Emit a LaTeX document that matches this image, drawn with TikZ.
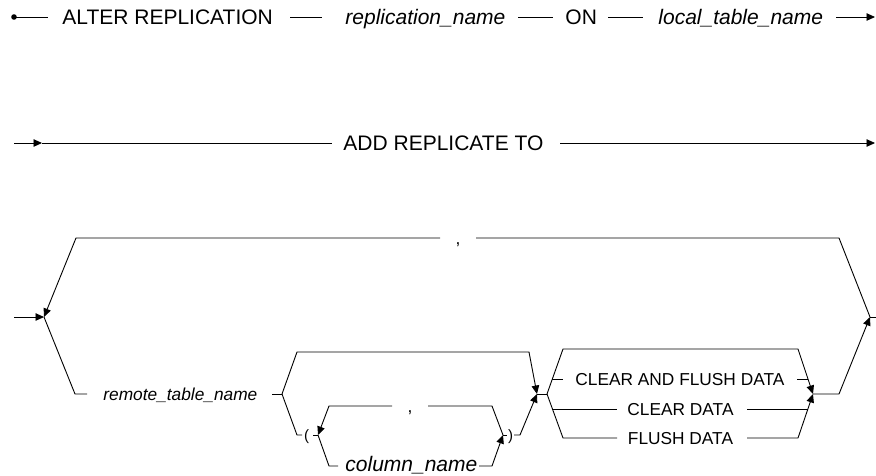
\documentclass[tikz,border=0pt]{standalone}
\usepackage{fontspec}
\setmainfont{Liberation Sans}
\usetikzlibrary{arrows.meta}
\begin{document}
\begin{tikzpicture}[x=1pt,y=-1pt,line width=0.9pt,
  arr/.style={-{Triangle[length=8.5pt,width=7.5pt]}},
  tbig/.style={font=\fontsize{21}{25}\selectfont,inner sep=0pt,text height=15pt,text depth=0pt},
  tbigit/.style={tbig,font=\fontsize{21}{25}\selectfont\itshape},
  tsm/.style={font=\fontsize{17.3}{20}\selectfont,inner sep=0pt,text height=12.4pt,text depth=0pt},
  tsmit/.style={tsm,font=\fontsize{17.3}{20}\selectfont\itshape},
  tpar/.style={font=\fontsize{15}{18}\selectfont,inner sep=0pt,text height=10.7pt,text depth=0pt}]
\useasboundingbox (0,0) rectangle (876,475);

% ---------- row 1 ----------
\coordinate (s0) at (14,17);
\coordinate (s1) at (48,17);
\coordinate (s2) at (290,17);
\coordinate (s3) at (322,17);
\coordinate (s4) at (518,17);
\coordinate (s5) at (553,17);
\coordinate (s6) at (608,17);
\coordinate (s7) at (643,17);
\coordinate (s8) at (836,17);
\coordinate (s9) at (875,17);
\fill (s0) circle (2.8pt);
\node[tbig,anchor=west] (alter) at (62,17) {ALTER REPLICATION};
\node[tbigit,anchor=west] (rname) at (345,17) {replication\_name};
\node[tbig,anchor=west] (on) at (565,17) {ON};
\node[tbigit,anchor=west] (ltname) at (658,17) {local\_table\_name};
\draw (s0) -- (s1);
\draw (s2) -- (s3);
\draw (s4) -- (s5);
\draw (s6) -- (s7);
\draw[arr] (s8) -- (s9);

% ---------- row 2 ----------
\coordinate (r0) at (14,143);
\coordinate (r1) at (42,143);
\coordinate (r2) at (332,143);
\coordinate (r3) at (560,143);
\coordinate (r4) at (875,143);
\node[tbig,anchor=west] (add) at (343,143) {ADD REPLICATE TO};
\draw[arr] (r0) -- (r1);
\draw (r1) -- (r2);
\draw[arr] (r3) -- (r4);

% ---------- row 3: outer loop ----------
\coordinate (in0) at (14,317);
\coordinate (J1) at (44,317);
\coordinate (tl) at (76,238);
\coordinate (c1a) at (440,238);
\coordinate (c1b) at (476,238);
\coordinate (tr) at (839,238);
\coordinate (J2) at (870,317);
\coordinate (out) at (876,317);
\node[tsm] (comma1) at (458,238) {,};
\draw[arr] (in0) -- (J1);
\draw (J2) -- (tr) -- (c1b);
\draw[arr] (c1a) -- (tl) -- (J1);
\draw (J2) -- (out);

\coordinate (bl) at (75,394);
\coordinate (rA) at (87,394);
\coordinate (rB) at (272,394);
\coordinate (A) at (282,394);
\node[tsmit,anchor=west] (rtn) at (103,394) {remote\_table\_name};
\draw (J1) -- (bl) -- (rA);
\draw (rB) -- (A);

% second level
\coordinate (Atl) at (297,352);
\coordinate (Atr) at (529,352);
\coordinate (B) at (537,394);
\coordinate (B2) at (547,394);
\draw[arr] (A) -- (Atl) -- (Atr) -- (B);
\draw (B) -- (B2);

\coordinate (Abl) at (297,435);
\coordinate (p1) at (302,435);
\coordinate (p2) at (313,435);
\coordinate (C) at (318,435);
\node[tpar] (lpar) at (306.5,435) {(};
\draw (A) -- (Abl) -- (p1);
\draw (p2) -- (C);

% inner loop
\coordinate (Cb) at (329,466);
\coordinate (Cb2) at (338,466);
\coordinate (Db2) at (479,466);
\coordinate (Db) at (492,466);
\coordinate (D) at (503,435);
\node[tbigit,anchor=west] (col) at (345,463.5) {column\_name};
\draw (C) -- (Cb) -- (Cb2);
\draw[arr] (Db2) -- (Db) -- (D);

\coordinate (Dt) at (492,406);
\coordinate (c2b) at (428,406);
\coordinate (c2a) at (392,406);
\coordinate (Ct) at (329,406);
\node[tsm] (comma2) at (410,406) {,};
\draw (D) -- (Dt) -- (c2b);
\draw[arr] (c2a) -- (Ct) -- (C);

\coordinate (q1) at (507,435);
\coordinate (q2) at (514,435);
\coordinate (q3) at (520,435);
\node[tpar] (rpar) at (510.5,435) {)};
\draw (D) -- (q1);
\draw[arr] (q2) -- (q3) -- (B);

% options
\coordinate (R) at (813,394);
\coordinate (R2) at (839,394);
\coordinate (Otl) at (563,349);
\coordinate (Otr) at (798,349);
\coordinate (Obl) at (563,438);
\coordinate (Obr) at (798,438);
\draw[arr] (B2) -- (Otl) -- (Otr) -- (R);
\draw[arr] (R) -- (R2) -- (J2);

\coordinate (o1a) at (552,379);
\coordinate (o1b) at (563,379);
\coordinate (o1c) at (797,379);
\coordinate (o1d) at (808,379);
\node[tsm,anchor=west] (cafd) at (575,379) {CLEAR AND FLUSH DATA};
\draw (o1a) -- (o1b);
\draw (o1c) -- (o1d);

\coordinate (o2a) at (552,409);
\coordinate (o2b) at (617,409);
\coordinate (o2c) at (747,409);
\coordinate (o2d) at (808,409);
\node[tsm] (cd) at (680.5,409) {CLEAR DATA};
\draw (o2a) -- (o2b);
\draw (o2c) -- (o2d);

\coordinate (o3b) at (617,438);
\coordinate (o3c) at (747,438);
\node[tsm] (fd) at (680.5,438) {FLUSH DATA};
\draw (B2) -- (Obl) -- (o3b);
\draw[arr] (o3c) -- (Obr) -- (R);
\end{tikzpicture}
\end{document}
